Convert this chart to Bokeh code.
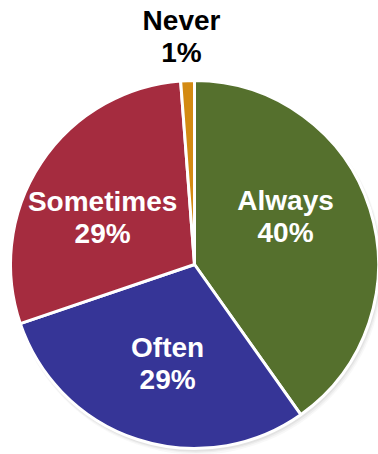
import math
from bokeh.plotting import figure
from bokeh.models import ColumnDataSource
from bokeh.core.properties import value
from bokeh.embed import file_html
from bokeh.resources import INLINE

categories = ["Always", "Often", "Sometimes", "Never"]
shares = [40.2, 29.6, 29.0, 1.2]
pct_labels = ["40%", "29%", "29%", "1%"]
colors = ["#55702D", "#363597", "#A52C3F", "#D38A12"]
label_colors = ["white", "white", "white", "black"]
# label placement (layout): radius as fraction of R, angular shift (deg, clockwise) from mid-angle
label_radius = [0.557, 0.558, 0.561, 1.241]
label_shift = [-9.7, -2.8, -6.4, -1.1]

W, H = 378, 454
cx, cy, R = 194, 190, 184

p = figure(width=W, height=H, x_range=(0, W), y_range=(0, H),
           output_backend="svg", toolbar_location=None, min_border=0)
p.axis.visible = False
p.grid.visible = False
p.outline_line_color = None
p.background_fill_color = "white"

total = sum(shares)
starts, ends, lx, ly = [], [], [], []
acc = 0.0
for s, lr, sh in zip(shares, label_radius, label_shift):
    a0 = math.pi / 2 - 2 * math.pi * acc / total
    acc += s
    a1 = math.pi / 2 - 2 * math.pi * acc / total
    starts.append(a1)
    ends.append(a0)
    mid = (a0 + a1) / 2 - math.radians(sh)
    lx.append(cx + lr * R * math.cos(mid))
    ly.append(cy + lr * R * math.sin(mid))

src = ColumnDataSource(dict(cat=categories, start=starts, end=ends, color=colors,
                            lx=lx, ly=ly, pct=pct_labels, tc=label_colors))

# soft shadow
for off, al in [(4, 0.06), (3, 0.08), (2, 0.1)]:
    p.circle(x=[cx + off * 0.6], y=[cy - off], radius=R + off * 0.5,
             fill_color="#808080", fill_alpha=al, line_color=None)

p.wedge(x=cx, y=cy, radius=R, start_angle="start", end_angle="end",
        fill_color="color", line_color="white", line_width=3, source=src)

common = dict(text_color="tc", text_font=value("Liberation Sans"), text_font_style="bold",
              text_font_size="28px", text_align="center", text_baseline="alphabetic",
              source=src)
p.text(x="lx", y="ly", text="cat", y_offset=-16.5, **common)
p.text(x="lx", y="ly", text="pct", y_offset=15.5, **common)

open("out.html", "w").write(file_html(p, INLINE))
